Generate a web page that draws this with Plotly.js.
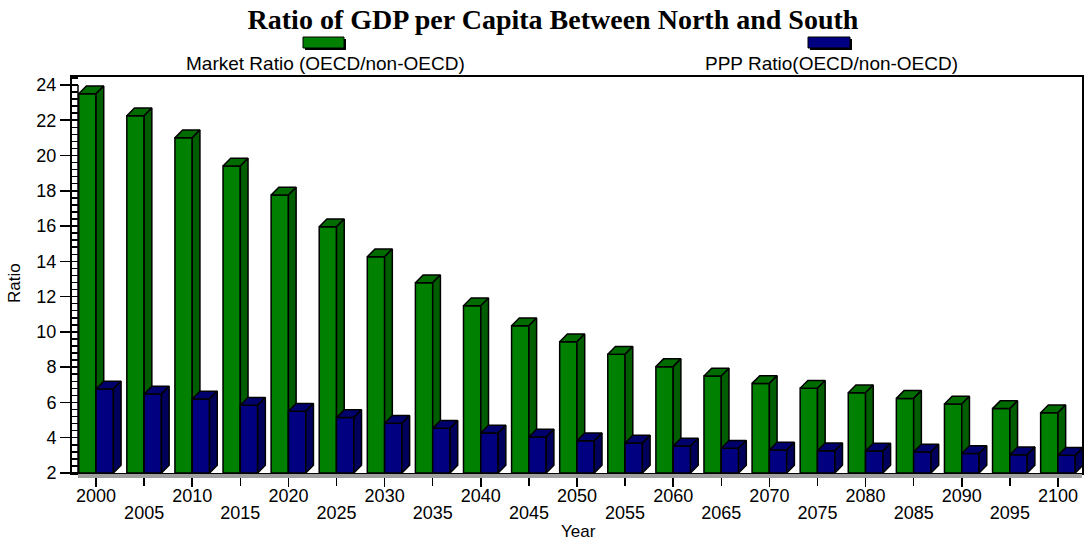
<!DOCTYPE html>
<html>
<head>
<meta charset="utf-8">
<script src="https://cdn.plot.ly/plotly-3.0.1.min.js"></script>
<style>html,body{margin:0;padding:0;background:#fff;}#chart{width:1084px;height:542px;}</style>
</head>
<body>
<div id="chart"></div>
<script>
const years = ['2000','2005','2010','2015','2020','2025','2030','2035','2040','2045','2050','2055','2060','2065','2070','2075','2080','2085','2090','2095','2100'];
const marketRatio = [23.5,22.25,21.0,19.4,17.76,15.96,14.26,12.79,11.48,10.35,9.44,8.73,8.03,7.5,7.08,6.8,6.55,6.23,5.91,5.65,5.42];
const pppRatio = [6.76,6.48,6.2,5.84,5.5,5.14,4.82,4.53,4.27,4.04,3.83,3.7,3.53,3.4,3.3,3.26,3.25,3.19,3.11,3.04,3.0];
const seriesNames = ['Market Ratio (OECD/non-OECD)','PPP Ratio(OECD/non-OECD)'];
const yTicks = [2,4,6,8,10,12,14,16,18,20,22,24];

const BASE = 2, W = 0.36, DX = 0.16, DY = 0.44;
const idx = years.map((_, i) => i);

function faces(vals, off) {
  const f = {x: [], y: []}, t = {x: [], y: []}, s = {x: [], y: []};
  vals.forEach((v, i) => {
    const x0 = i + off, x1 = x0 + W;
    f.x.push(x0, x0, x1, x1, x0, null); f.y.push(BASE, v, v, BASE, BASE, null);
    t.x.push(x0, x1, x1 + DX, x0 + DX, x0, null); t.y.push(v, v, v + DY, v + DY, v, null);
    s.x.push(x1, x1, x1 + DX, x1 + DX, x1, null); s.y.push(BASE, v, v + DY, BASE + DY, BASE, null);
  });
  return [f, t, s];
}

function polyTraces(vals, off, colors, xa, name) {
  return faces(vals, off).map((p, k) => ({
    type: 'scatter', mode: 'lines', x: p.x, y: p.y, xaxis: xa, yaxis: 'y',
    fill: 'toself', fillcolor: colors[k], line: {color: '#000', width: 1.5},
    hoverinfo: 'skip', showlegend: false, name: name
  }));
}

const traces = [
  ...polyTraces(marketRatio, -W, ['#008000', '#006c00', '#005e00'], 'x', seriesNames[0]),
  ...polyTraces(pppRatio, 0, ['#000080', '#00006c', '#00005c'], 'x2', seriesNames[1])
];

const SANS = 'Liberation Sans, Arial, sans-serif';
const tickFont = {family: SANS, size: 18, color: '#000'};
const L = 72, R = 1082, T = 77, B = 473;
const px = v => (v - L) / (R - L), py = v => (B - v) / (B - T);

function swatch(x0, x1, color) {
  return [
    {type: 'rect', xref: 'paper', yref: 'paper', x0: px(x0 + 2), x1: px(x1 + 2), y0: py(39), y1: py(50), fillcolor: '#000', line: {width: 0}},
    {type: 'rect', xref: 'paper', yref: 'paper', x0: px(x0), x1: px(x1), y0: py(37), y1: py(48), fillcolor: color, line: {color: '#000', width: 1}}
  ];
}

const layout = {
  width: 1084, height: 542,
  margin: {l: L, r: 1084 - R, t: T, b: 542 - B},
  paper_bgcolor: '#fff', plot_bgcolor: '#fff',
  showlegend: false,
  title: {text: 'Ratio of GDP per Capita Between North and South', x: 553 / 1084, xanchor: 'center', y: 1 - 19 / 542, yanchor: 'middle', yref: 'container',
    font: {family: 'Liberation Serif, Times New Roman, serif', size: 28, weight: 'bold', color: '#000'}},
  xaxis: {
    range: [-0.5, 20.5], tickmode: 'array', tickvals: idx.filter(i => i % 2 === 0), ticktext: years.filter((_, i) => i % 2 === 0),
    ticks: 'outside', ticklen: 12, tickwidth: 1.5, tickcolor: '#000', tickfont: tickFont, ticklabelstandoff: -7,
    showline: true, linecolor: '#000', linewidth: 2, mirror: true, showgrid: false, zeroline: false, fixedrange: true
  },
  xaxis2: {
    overlaying: 'x', anchor: 'y', side: 'bottom', matches: 'x', range: [-0.5, 20.5],
    tickmode: 'array', tickvals: idx.filter(i => i % 2 === 1), ticktext: years.filter((_, i) => i % 2 === 1),
    ticks: 'outside', ticklen: 12, tickwidth: 1.5, tickcolor: '#000', tickfont: tickFont, ticklabelstandoff: 11,
    showline: false, showgrid: false, zeroline: false
  },
  yaxis: {
    range: [2, 24.45], tickmode: 'array', tickvals: yTicks,
    ticks: 'outside', ticklen: 10, tickwidth: 1.5, tickcolor: '#000', tickfont: tickFont,
    minor: {ticks: 'inside', dtick: 0.4, tick0: 2, ticklen: 6, tickwidth: 1.5, tickcolor: '#000', showgrid: false},
    showline: true, linecolor: '#000', linewidth: 2, mirror: true, showgrid: false, zeroline: false
  },
  shapes: [
    {type: 'line', xref: 'paper', yref: 'y', x0: px(78), x1: px(78), y0: 2, y1: 24, line: {color: '#000', width: 1.5}},
    {type: 'rect', xref: 'paper', yref: 'paper', x0: px(78), x1: 1, y0: py(474), y1: py(478), fillcolor: '#a0a0a0', line: {width: 0}},
    ...swatch(303, 344, '#008000'),
    ...swatch(808, 850, '#000080')
  ],
  annotations: [
    {xref: 'paper', yref: 'paper', x: px(325), y: py(63), text: seriesNames[0], showarrow: false, xanchor: 'center', yanchor: 'middle',
      font: {family: SANS, size: 19, color: '#000'}},
    {xref: 'paper', yref: 'paper', x: px(831), y: py(63), text: seriesNames[1], showarrow: false, xanchor: 'center', yanchor: 'middle',
      font: {family: SANS, size: 19, color: '#000'}},
    {xref: 'paper', yref: 'paper', x: px(578), y: py(531), text: 'Year', showarrow: false, xanchor: 'center', yanchor: 'middle',
      font: {family: SANS, size: 17, color: '#000'}},
    {xref: 'paper', yref: 'paper', x: px(14), y: py(283), text: 'Ratio', textangle: -90, showarrow: false, xanchor: 'center', yanchor: 'middle',
      font: {family: SANS, size: 17, color: '#000'}}
  ]
};

Plotly.newPlot('chart', traces, layout, {displayModeBar: false, staticPlot: true});
</script>
</body>
</html>
